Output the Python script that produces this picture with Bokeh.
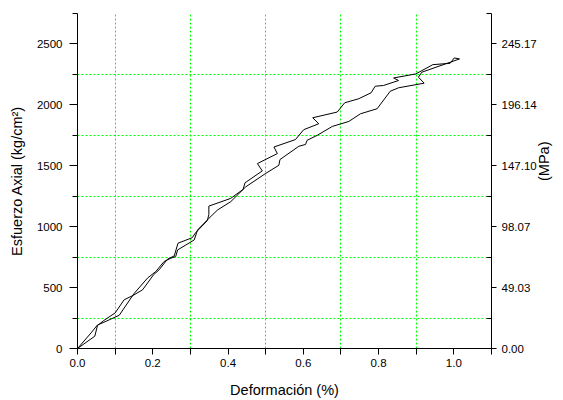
import math
from bokeh.plotting import figure
from bokeh.models import Range1d, LinearAxis, FixedTicker
from bokeh.embed import file_html
from bokeh.resources import INLINE

# Curve A (upper, jagged in the upper part)
curve_a_x = [0.0, 0.046, 0.053, 0.07, 0.10, 0.124, 0.146, 0.173, 0.202, 0.217, 0.239, 0.257, 0.267,
             0.305, 0.314, 0.345, 0.349, 0.349, 0.407, 0.440, 0.445, 0.491, 0.478, 0.531, 0.522,
             0.579, 0.601, 0.641, 0.625, 0.690, 0.710, 0.747, 0.780, 0.791, 0.813, 0.853, 0.840,
             0.899, 0.944, 0.990, 1.001, 1.015]
curve_a_y = [0, 101, 188, 230, 292, 400, 433, 482, 605, 646, 733, 760, 864,
             910, 951, 1050, 1100, 1169, 1232, 1306, 1360, 1458, 1518, 1600, 1654,
             1715, 1796, 1845, 1894, 1941, 2017, 2050, 2099, 2153, 2159, 2200, 2221,
             2254, 2330, 2341, 2385, 2377]

# Curve B (lower, smoother in the upper part)
curve_b_x = [0.0, 0.036, 0.053, 0.07, 0.111, 0.150, 0.186, 0.208, 0.230, 0.248, 0.261, 0.266,
             0.310, 0.319, 0.349, 0.372, 0.407, 0.447, 0.500, 0.535, 0.538, 0.588, 0.606, 0.610,
             0.637, 0.677, 0.721, 0.752, 0.796, 0.831, 0.853, 0.921, 0.906, 0.915, 1.015]
curve_b_y = [0, 128, 193, 215, 273, 450, 578, 632, 714, 741, 755, 809,
             891, 973, 1068, 1137, 1205, 1327, 1437, 1504, 1551, 1660, 1675, 1709,
             1750, 1823, 1864, 1927, 1968, 2112, 2140, 2178, 2227, 2268, 2377]

x_ticks = [0.0, 0.2, 0.4, 0.6, 0.8, 1.0]
x_tick_labels = ["0.0", "0.2", "0.4", "0.6", "0.8", "1.0"]
x_minor = [0.1, 0.3, 0.5, 0.7, 0.9, 1.1]
x_grid = [0.1, 0.3, 0.5, 0.7, 0.9]

y_ticks = [0, 500, 1000, 1500, 2000, 2500]
y_tick_labels = ["0", "500", "1000", "1500", "2000", "2500"]
y_minor = [250, 750, 1250, 1750, 2250, 2750]
y_grid = [250, 750, 1250, 1750, 2250]
mpa_tick_labels = ["0.00", "49.03", "98.07", "147.10", "196.14", "245.17"]

FONT = "Liberation Sans"

p = figure(width=562, height=400, x_range=Range1d(0, 1.1), y_range=Range1d(0, 2750),
           output_backend="svg", toolbar_location=None,
           min_border_left=77, min_border_right=70, min_border_top=13, min_border_bottom=51)
p.outline_line_color = None
p.background_fill_color = "white"
p.border_fill_color = "white"

# grids
p.xgrid.ticker = FixedTicker(ticks=x_grid)
p.ygrid.ticker = FixedTicker(ticks=y_grid)
for g in (p.xgrid, p.ygrid):
    g.grid_line_color = "#00ff00"
    g.grid_line_dash = "2 2"
    g.grid_line_width = 1

# bottom axis
xa = p.xaxis[0]
xa.ticker = FixedTicker(ticks=x_ticks, minor_ticks=x_minor)
xa.major_label_overrides = {t: l for t, l in zip(x_ticks, x_tick_labels)}
xa.axis_label = "Deformación (%)"
xa.major_tick_out = 6
xa.major_tick_in = 0
xa.minor_tick_out = 6
xa.minor_tick_in = 0
xa.major_label_standoff = 4
xa.axis_label_standoff = 12

# left axis
ya = p.yaxis[0]
ya.ticker = FixedTicker(ticks=y_ticks, minor_ticks=y_minor)
ya.major_label_overrides = {t: l for t, l in zip(y_ticks, y_tick_labels)}
ya.axis_label = "Esfuerzo Axial (kg/cm²)"
ya.major_tick_out = 8
ya.major_tick_in = 0
ya.minor_tick_out = 5
ya.minor_tick_in = 0
ya.major_label_standoff = 7
ya.axis_label_standoff = 9

# right axis (MPa)
ra = LinearAxis(ticker=FixedTicker(ticks=y_ticks, minor_ticks=y_minor))
ra.major_label_overrides = {t: l for t, l in zip(y_ticks, mpa_tick_labels)}
ra.axis_label = "(MPa)"
ra.major_tick_out = 5
ra.major_tick_in = 0
ra.minor_tick_out = 0
ra.minor_tick_in = 5
ra.major_label_standoff = 5
ra.axis_label_standoff = 4
try:
    ra.axis_label_orientation = math.pi / 2
except AttributeError:
    pass
p.add_layout(ra, "right")

for ax in (xa, ya, ra):
    ax.axis_line_color = "black"
    ax.major_tick_line_color = "black"
    ax.minor_tick_line_color = "black"
    ax.major_label_text_font = FONT
    ax.major_label_text_font_size = "11.5px"
    ax.major_label_text_color = "black"
    ax.axis_label_text_font = FONT
    ax.axis_label_text_font_size = "14.5px"
    ax.axis_label_text_font_style = "normal"
    ax.axis_label_text_color = "black"

p.line(curve_a_x, curve_a_y, line_color="black", line_width=1)
p.line(curve_b_x, curve_b_y, line_color="black", line_width=1)

open("out.html", "w").write(file_html(p, INLINE))
